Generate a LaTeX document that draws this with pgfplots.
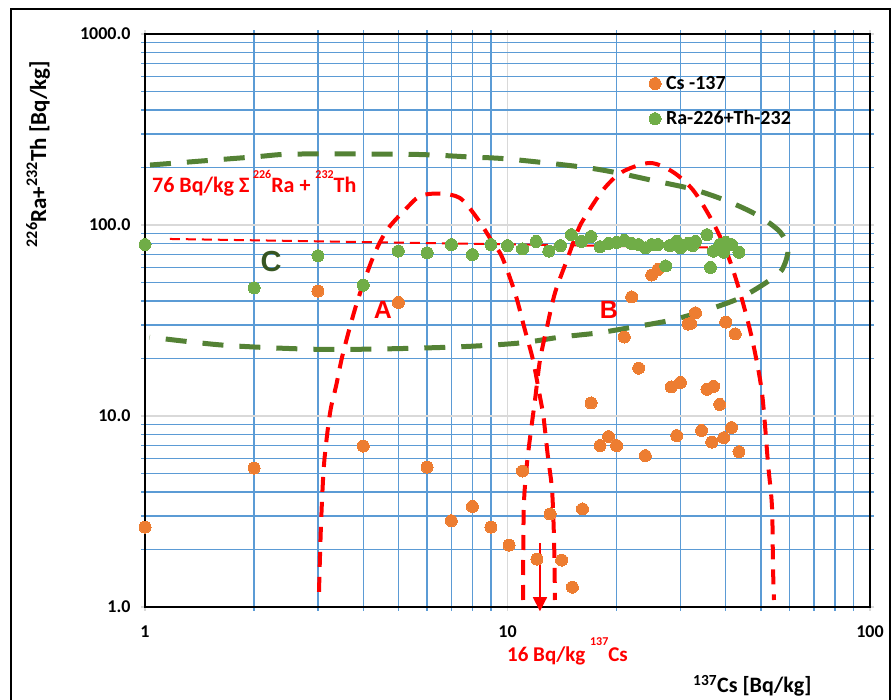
\documentclass[border=0pt]{standalone}
\usepackage{fontspec}
\setmainfont{Carlito}
\newfontfamily\arialfont{Liberation Sans}
\usepackage{pgfplots}
\pgfplotsset{compat=1.18}
\usetikzlibrary{arrows.meta}
\definecolor{csorange}{HTML}{ED7D31}
\definecolor{ragreen}{HTML}{70AD47}
\definecolor{gridblue}{HTML}{5B9BD5}
\definecolor{gridgray}{HTML}{D9D9D9}
\definecolor{ellgreen}{HTML}{548235}
\definecolor{cgreen}{HTML}{375623}
\begin{document}
\begin{tikzpicture}[x=1pt,y=1pt]
\useasboundingbox (0,0) rectangle (892,700);
\draw[black, line width=1.2pt] (11,-20) rectangle (890,691);
\begin{axis}[
  at={(145pt,93pt)}, anchor=south west,
  scale only axis, width=725pt, height=573pt,
  xmode=log, ymode=log,
  xmin=1, xmax=100, ymin=1, ymax=1000,
  xtick={1,10,100}, xticklabels={1,10,100},
  ytick={1,10,100,1000}, yticklabels={1.0,10.0,100.0,1000.0},
  grid=both,
  minor grid style={color=gridblue, line width=1.3pt},
  major grid style={color=gridgray, line width=1.3pt},
  axis line style={black, line width=1.5pt},
  tick align=outside,
  major tick length=4pt, minor tick length=4pt,
  minor tick style={gridblue, line width=1.3pt},
  major tick style={gridgray, line width=1.3pt},
  /pgf/number format/assume math mode=true,
  tick label style={font=\bfseries\fontsize{18}{20}\selectfont},
  yticklabel style={xshift=-7pt},
  xticklabel style={yshift=-11pt},
  clip=false,
  legend style={draw=none, fill=none, at={(0.695,0.930)}, anchor=north west,
    font=\bfseries\fontsize{20}{24}\selectfont, row sep=16pt, column sep=3pt, inner sep=0pt},
  legend cell align=left,
  legend image code/.code={\draw[#1] plot coordinates {(0pt,0pt)};},
]
\addplot[csorange, only marks, mark=*, mark size=6pt, mark options={draw=csorange, fill=csorange, line width=0pt}] coordinates {
(1,2.62) (2,5.34) (3,45.1) (4,6.96) (5,39.3) (6,5.4) (7,2.83) (8,3.36) (9,2.62)
(10.1,2.11) (11,5.15) (12.05,1.78) (13.1,3.07) (14.1,1.76) (15.1,1.27) (16.1,3.26)
(17,11.7) (18,7.0) (19,7.8) (20,7.0) (21,25.9) (22,42) (23,17.8) (24,6.2) (25,54.7)
(26,58.5) (28.3,14.2) (29.3,7.9) (30,15.0) (31.5,30.3) (32,30.5) (33,34.7) (34.3,8.4)
(35.5,13.8) (36.6,7.3) (37,14.3) (38.5,11.5) (39.5,7.7) (40,31) (41.5,8.7) (42.5,26.9) (43.5,6.5)};
\addlegendentry{Cs -137}
\addplot[ragreen, only marks, mark=*, mark size=6pt, mark options={draw=ragreen, fill=ragreen, line width=0pt}] coordinates {
(1,79) (2,46.8) (3,69) (4,48.4) (5,73) (6,71.5) (7,79) (8,70) (9,79) (10,78) (11,75)
(12,82) (13,73) (14,78) (15,89) (16,82) (17,87) (18,77) (19,80) (20,81) (21,83) (22,80)
(23,79) (24,76) (25,79) (26,79) (27.3,61) (28,78) (29.3,82) (30,76) (31.5,80) (32.4,78)
(33,82) (35.5,89) (36.3,60) (37,73) (38.5,79) (39.5,72) (40,81) (41.5,79) (43.5,72)};
\addlegendentry{Ra-226+Th-232}
% ellipse C
\addplot[ellgreen, line width=5pt, dash pattern=on 21pt off 16pt, smooth, tension=0.5, forget plot] coordinates {
(1.032,206) (1.986,227) (2.56,235) (4.89,235) (6.23,232.5) (7.88,227) (10.03,221.6)
(16.05,201.2) (20.17,187.2) (25.53,170) (32.28,154.3) (40.32,133.6) (48.79,112.8)
(56.5,91.9) (59.4,74) (57.1,58.1) (52.0,50.3) (43.8,41.5) (35.5,35.9) (28.4,31.8)
(22.2,29.2) (17.7,27.2) (14.0,25.9) (10.8,24.1) (7.26,23.0) (4.26,22.4) (2.80,22.4)
(1.64,23.5) (1.03,25.9)};
% curve A
\addplot[red, line width=4pt, dash pattern=on 15pt off 10pt, smooth, tension=0.5, forget plot] coordinates {
(3.02,1.20) (3.06,2.75) (3.12,5.67) (3.24,10.4) (3.37,14.5) (3.52,21.4) (3.84,39.0)
(4.26,68.0) (4.65,94.1) (5.21,119.8) (5.74,141.8) (6.51,146) (7.39,138.5) (8.24,108.8)
(9.12,80.5) (9.66,68.0) (10.49,44.1) (11.17,28.2) (11.76,19.6) (12.29,12.6) (12.53,10.4)
(12.93,6.10) (13.27,4.10) (13.44,2.24) (13.52,1.088)};
% curve B
\addplot[red, line width=4pt, dash pattern=on 15pt off 10pt, smooth, tension=0.5, forget plot] coordinates {
(11.05,1.088) (11.05,1.76) (11.10,3.50) (11.32,5.67) (11.68,9.19) (11.91,12.13)
(12.29,19.6) (12.85,29.2) (13.52,44.1) (14.59,65.6) (15.65,94.1) (16.36,110.1)
(18.34,152.5) (20.70,189.4) (24.73,211.2) (28.61,189.4) (32.49,152.5) (36.20,110.1)
(39.31,80.5) (41.90,58.1) (44.64,39.0) (47.56,24.1) (50.36,13.2) (52.31,5.67)
(53.66,3.34) (54.0,1.62) (54.35,1.088)};
% 76 Bq/kg line
\addplot[red, line width=2pt, dash pattern=on 10pt off 6pt, forget plot] coordinates {(1.172,84.5) (43.8,75.8)};
% arrow
\addplot[red, line width=1.5pt, -{Triangle[width=14pt,length=14pt]}, forget plot] coordinates {(12.29,2.16) (12.29,0.95)};
\end{axis}
\node[rotate=90, font=\bfseries\fontsize{23}{28}\selectfont] at (38,546) {\textsuperscript{226}Ra+\textsuperscript{232}Th [Bq/kg]};
\node[anchor=base west, inner sep=0pt, font=\bfseries\fontsize{22}{26}\selectfont] at (693,7) {\textsuperscript{137}Cs [Bq/kg]};
\node[anchor=base west, inner sep=0pt, text=red, font=\bfseries\fontsize{22}{26}\selectfont] at (152,507) {76 Bq/kg Σ\,\raisebox{14pt}{\fontsize{12}{12}\selectfont 226}Ra + \raisebox{14pt}{\fontsize{12}{12}\selectfont 232}Th};
\node[anchor=base west, inner sep=0pt, text=red, font=\bfseries\fontsize{21}{25}\selectfont] at (507,38) {16 Bq/kg \raisebox{16pt}{\fontsize{12}{12}\selectfont 137}Cs};
\node[text=red, font=\arialfont\bfseries\fontsize{25}{28}\selectfont] at (383,390) {A};
\node[text=red, font=\arialfont\bfseries\fontsize{25}{28}\selectfont] at (609,390) {B};
\node[text=cgreen, font=\arialfont\bfseries\fontsize{29}{32}\selectfont] at (271,438) {C};
\end{tikzpicture}
\end{document}
